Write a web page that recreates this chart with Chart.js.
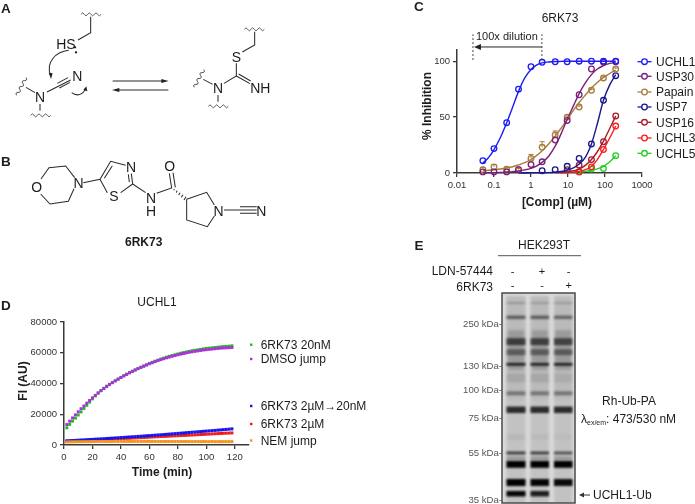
<!DOCTYPE html>
<html lang="en">
<head>
<meta charset="UTF-8" />
<title>6RK73 figure</title>
<script src="https://cdn.jsdelivr.net/npm/chart.js"></script>
<style>
  html, body { margin: 0; background: #fff; }
  #fig { position: relative; width: 695px; height: 504px; overflow: hidden; filter: blur(0.4px); }
  #fig canvas, #art { position: absolute; }
  #art { left: 0; top: 0; }
  #art text { font-family: "Liberation Sans", Arial, sans-serif; fill: #1c1c1c; }
  .bond { fill: none; stroke: #2a2a2a; stroke-width: 3.1; }
  .wave { fill: none; stroke: #333; stroke-width: 2.4; }
</style>
</head>
<body>
<div id="fig">
  <svg id="art" width="695" height="504" xmlns="http://www.w3.org/2000/svg">
    <defs>
      <filter id="soft" x="-20%" y="-50%" width="140%" height="200%"><feGaussianBlur stdDeviation="1" /></filter>
      <filter id="softer" x="-20%" y="-20%" width="140%" height="140%"><feGaussianBlur stdDeviation="1.8" /></filter>
      <clipPath id="gelClip"><rect x="502" y="293" width="73" height="210" /></clipPath>
      <path id="wavy" d="M0,0 q5,-9 10,0 t10,0 t10,0 t10,0 t10,0 t10,0" />
    </defs>

    <!-- panel letters -->
    <g font-weight="bold" font-size="13.5">
      <text x="1" y="13">A</text>
      <text x="1" y="166">B</text>
      <text x="414" y="11">C</text>
      <text x="1" y="310">D</text>
      <text x="414.5" y="249.5">E</text>
    </g>

    <!-- A + B drawn in 3x coordinates -->
    <g transform="scale(0.33333)">
      <use href="#wavy" class="wave" x="243" y="43" />
      <path class="bond" d="M272,50 L272,98 L234,120" />
      <circle cx="225" cy="142" r="3.5" fill="#111" />
      <circle cx="228" cy="157" r="3.5" fill="#111" />
      <path class="bond" stroke-width="2.5" d="M206,151 C170,155 135,185 152,228" />
      <path d="M153,237 L146,218 L158,220 Z" fill="#222" />
      <path class="bond" d="M141,276 L212,240 M172,250 L204,233 M178,264 L210,247" />
      <use href="#wavy" class="wave" transform="translate(50,286) rotate(-62)" />
      <path class="bond" d="M78,262 L105,278 M120,312 L120,332" />
      <use href="#wavy" class="wave" x="92" y="346" />
      <path class="bond" stroke-width="2.5" d="M215,278 C230,290 250,285 256,266" />
      <path d="M259,259 L262,274 L250,270 Z" fill="#222" />
      <path class="bond" stroke-width="2.6" d="M338,243 L490,243 M505,270 L350,270" />
      <path d="M506,243 L484,237 L484,249 Z M336,270 L358,264 L358,276 Z" fill="#222" />

      <use href="#wavy" class="wave" x="733" y="88" />
      <path class="bond" d="M764,95 L764,135 L727,156 M709,190 L709,228 L672,250 M638,253 L610,238 M654,285 L654,305 M709,228 L750,251 M716,222 L752,243" />
      <use href="#wavy" class="wave" transform="translate(583,262) rotate(-62)" />
      <use href="#wavy" class="wave" x="625" y="319" />

      <path class="bond" d="M123,537 L147,503 L197,498 L224,533 M222,566 L205,604 L150,612 L122,582 M250,548 L300,538 L332,484 L377,496 M313,535 L337,497 M394,521 L398,552 L362,578 M385,523 L388,546 M322,578 L300,538 M398,552 L437,578 M470,580 L515,564 L508,520 M526,562 L519,518 M560,598 L620,577 L643,615 M643,648 L622,680 L560,660 L560,598 M672,630 L720,630 M720,620 L770,620 M720,630 L770,630 M720,640 L770,640" />
      <path class="bond" stroke-width="2.4" d="M522,567 L522,571 M531,572 L529,578 M540,578 L536,585 M549,584 L544,592 M558,590 L552,600" />
      <g font-size="42" text-anchor="middle">
        <text x="198" y="146">HS</text>
        <text x="120" y="305">N</text>
        <text x="232" y="243">N</text>
        <text x="709" y="185">S</text>
        <text x="654" y="280">N</text>
        <text x="781" y="279">NH</text>
        <text x="110" y="576">O</text>
        <text x="236" y="563">N</text>
        <text x="393" y="515">N</text>
        <text x="342" y="604">S</text>
        <text x="453" y="609">N</text>
        <text x="453" y="647">H</text>
        <text x="509" y="513">O</text>
        <text x="656" y="647">N</text>
        <text x="784" y="647">N</text>
      </g>
      <text x="431" y="739" font-size="36" font-weight="bold" text-anchor="middle">6RK73</text>
    </g>

    <!-- C text -->
    <text x="560" y="22" font-size="12" text-anchor="middle">6RK73</text>
    <text x="476" y="40" font-size="11">100x dilution</text>
    <text x="557" y="206" font-size="12" font-weight="bold" text-anchor="middle">[Comp] (µM)</text>
    <text transform="translate(431,106) rotate(-90)" font-size="12" font-weight="bold" text-anchor="middle">% Inhibition</text>

    <!-- D text -->
    <text x="157" y="306" font-size="12" text-anchor="middle">UCHL1</text>
    <text x="162" y="476" font-size="12" font-weight="bold" text-anchor="middle">Time (min)</text>
    <text transform="translate(27,381) rotate(-90)" font-size="12" font-weight="bold" text-anchor="middle">FI (AU)</text>

    <!-- E -->
    <text x="544" y="249" font-size="12" text-anchor="middle">HEK293T</text>
    <line x1="498" y1="255.7" x2="581" y2="255.7" stroke="#555" stroke-width="1" />
    <text x="493" y="275" font-size="12" text-anchor="end">LDN-57444</text>
    <text x="493" y="291" font-size="12" text-anchor="end">6RK73</text>
    <g id="gel"></g>
    <text x="629" y="405" font-size="12" text-anchor="middle">Rh-Ub-PA</text>
    <text x="581" y="423" font-size="12">λ<tspan font-size="7" dy="2">ex/em</tspan><tspan dy="-2">: 473/530 nM</tspan></text>
    <text x="593" y="499" font-size="12">UCHL1-Ub</text>
    <path d="M590,495 L582,495" stroke="#333" stroke-width="1" />
    <path d="M579,495 L584,492.5 L584,497.5 Z" fill="#333" />
  </svg>
  <canvas id="chartC" width="295" height="170" style="left:400px;top:30px"></canvas>
  <canvas id="chartD" width="300" height="170" style="left:0;top:310px"></canvas>
</div>

<script>
// --- panel C
const doses = [0.05, 0.1, 0.22, 0.46, 1, 2, 4.5, 9.5, 20, 43, 91, 195];
const uchl1 = [11, 21.8, 45, 75, 95, 99, 99.5, 99.5, 100, 100, 100, 100];
const usp30 = [1, 1, 1, 3, 7.5, 10, 29.5, 47, 70, 93, 99, 99.5];
const papain = [3, 5.5, 3.5, 3, 13, 23, 34, 50, 59, 74, 85, 93];
const usp7 = [null, null, null, null, null, 2, 3, 6, 13, 26, 65, 87];
const usp16 = [null, null, null, null, null, null, null, 3, 7, 12, 28, 51];
const uchl3 = [null, null, null, null, null, null, null, null, 1, 5.5, 21, 42];
const uchl5 = [null, null, null, null, null, null, null, null, 1, 3.5, 4, 15.5];
const papainErr = [2, 2, 2, 1, 3.6, 5, 3.6, 1, 1, 1, 1, 1];

// fitted curves, also
const fitDoses = [0.05, 0.07, 0.1, 0.15, 0.22, 0.32, 0.46, 0.68, 1, 1.4, 2, 3, 4.5, 6.5, 9.5, 14, 20, 30, 43, 62, 91, 135, 195];
const uchl1Fit = [9, 13.5, 21, 32, 45, 59, 73, 85, 92.5, 96.5, 98.5, 99.3, 99.7, 99.8, 100, 100, 100, 100, 100, 100, 100, 100, 100];
const usp30Fit = [0.1, 0.2, 0.3, 0.5, 0.8, 1.2, 1.8, 2.8, 4.2, 6.2, 9.5, 15, 24, 35, 48, 60, 71, 81, 88, 93, 96, 98, 99];
const papainFit = [2, 2.4, 2.9, 3.6, 4.5, 5.6, 7.2, 9.2, 12, 15.5, 20, 26, 33, 40, 48, 56, 63, 70, 76, 81, 85.5, 89, 92];
const usp7Fit = [null, null, null, null, null, null, 0, 0, 0.1, 0.1, 0.2, 0.3, 0.7, 1.3, 2.5, 4.5, 8, 14.5, 26, 44, 65, 79, 88];
const usp16Fit = [null, null, null, null, null, null, null, null, null, null, null, null, 0.2, 0.5, 1, 2, 3.5, 7, 12, 19, 28.5, 40, 51];
const uchl3Fit = [null, null, null, null, null, null, null, null, null, null, null, null, null, 0, 0.3, 0.8, 1.5, 3, 6, 12, 21, 31.5, 42];
const uchl5Fit = [null, null, null, null, null, null, null, null, null, null, null, null, null, null, null, null, 0.8, 1.5, 2.5, 3.7, 6, 10, 15.5];

const cNames = ['UCHL1', 'USP30', 'Papain', 'USP7', 'USP16', 'UCHL3', 'UCHL5'];
const cValues = [uchl1, usp30, papain, usp7, usp16, uchl3, uchl5];
const cFits = [uchl1Fit, usp30Fit, papainFit, usp7Fit, usp16Fit, uchl3Fit, uchl5Fit];
const cXTicks = [0.01, 0.1, 1, 10, 100, 1000];
const cYTicks = [0, 50, 100];
const dilutionRange = [0.027, 1.97];

// --- panel D
const times = [2, 4, 6, 8, 10, 12, 14, 16, 18, 20, 22, 24, 26, 28, 30, 32, 34, 36, 38, 40, 42, 44, 46, 48, 50, 52, 54, 56, 58, 60, 62, 64, 66, 68, 70, 72, 74, 76, 78, 80, 82, 84, 86, 88, 90, 92, 94, 96, 98, 100, 102, 104, 106, 108, 110, 112, 114, 116, 118];
const rk20nM = [11200, 13400, 15500, 17500, 19500, 21500, 23700, 25800, 27900, 30000, 31900, 33700, 35400, 36900, 38300, 39500, 40700, 41800, 42900, 44000, 45100, 46100, 47100, 48000, 48900, 49800, 50600, 51400, 52200, 53000, 53800, 54500, 55200, 55900, 56500, 57100, 57700, 58200, 58700, 59200, 59700, 60100, 60500, 60900, 61300, 61600, 61900, 62200, 62500, 62800, 63000, 63200, 63400, 63600, 63800, 64000, 64100, 64300, 64500];
const dmsoJump = [13300, 15500, 17600, 19600, 21600, 23600, 25400, 27200, 29000, 30700, 32300, 33900, 35300, 36700, 38000, 39300, 40500, 41700, 42800, 43900, 44900, 45900, 46900, 47800, 48700, 49600, 50400, 51200, 52000, 52800, 53500, 54200, 54900, 55500, 56100, 56700, 57200, 57700, 58200, 58700, 59100, 59500, 59900, 60300, 60600, 60900, 61200, 61500, 61800, 62000, 62200, 62400, 62600, 62800, 63000, 63100, 63200, 63300, 63400];
const rk2uMJump = [2700, 2800, 2900, 3000, 3150, 3250, 3350, 3450, 3550, 3650, 3800, 3900, 4000, 4100, 4250, 4350, 4450, 4600, 4700, 4850, 4950, 5100, 5200, 5350, 5450, 5600, 5700, 5850, 6000, 6100, 6250, 6400, 6550, 6650, 6800, 6950, 7100, 7250, 7400, 7550, 7700, 7850, 8000, 8150, 8300, 8450, 8600, 8750, 8900, 9050, 9200, 9350, 9500, 9650, 9800, 10000, 10150, 10300, 10500];
const rk2uM = [2500, 2550, 2650, 2700, 2800, 2900, 2950, 3050, 3150, 3250, 3300, 3400, 3500, 3600, 3700, 3750, 3850, 3950, 4050, 4150, 4250, 4350, 4400, 4500, 4600, 4700, 4800, 4900, 5000, 5100, 5200, 5300, 5400, 5500, 5550, 5650, 5750, 5850, 5950, 6050, 6150, 6250, 6300, 6400, 6500, 6600, 6700, 6800, 6900, 7000, 7100, 7200, 7300, 7400, 7500, 7600, 7700, 7750, 7850];
const nemJump = [2000, 2050, 2100, 2100, 2150, 2150, 2200, 2200, 2200, 2250, 2250, 2250, 2300, 2300, 2300, 2300, 2300, 2350, 2300, 2350, 2300, 2350, 2300, 2300, 2350, 2300, 2300, 2300, 2350, 2300, 2300, 2300, 2250, 2300, 2300, 2250, 2300, 2250, 2250, 2300, 2250, 2250, 2250, 2250, 2200, 2250, 2250, 2200, 2250, 2200, 2200, 2250, 2200, 2200, 2200, 2200, 2200, 2200, 2200];

const dNames = ['6RK73 20nM', 'DMSO jump', '6RK73 2µM→20nM', '6RK73 2µM', 'NEM jump'];
const dValues = [rk20nM, dmsoJump, rk2uMJump, rk2uM, nemJump];
const dXTicks = [0, 20, 40, 60, 80, 100, 120];
const dYTicks = [0, 20000, 40000, 60000, 80000];

// gel: [y, height, darkness in lanes 1,2,3]
const gelBands = [
  [303, 2, .2, .18, .18], [317.3, 3.5, .5, .5, .45], [341.7, 7, .62, .6, .58], [352.2, 6, .42, .42, .42],
  [364.3, 2.6, .85, .85, .85], [378, 9, .1, .1, .08], [393.3, 4, .38, .38, .38], [409.8, 6.5, .78, .78, .78],
  [437, 6, .05, .04, .03], [453, 3, .68, .68, .58], [458, 2, .3, .3, .3], [464.3, 7, 1, 1, 1],
  [482.5, 7, 1, .98, .95], [493.7, 5.5, .98, .85, 0]
];
const gelKda = ['250 kDa-', '130 kDa-', '100 kDa-', '75 kDa-', '55 kDa-', '35 kDa-'];
const gelMarks = [['-', '+', '-'], ['-', '-', '+']];

// --- styles
const cColours = ['#1c1cf5', '#7a1f78', '#a97c3e', '#17178f', '#a51c2c', '#fa1c1c', '#25cc25'];
const dColours = ['#22b922', '#a832d8', '#1414f0', '#f01818', '#f7941e'];
const tickFont = { family: '"Liberation Sans", Arial, sans-serif', size: 9.5 };
const axisColour = '#3a3a3a';

Chart.defaults.animation = false;
Chart.defaults.events = [];
Chart.defaults.plugins.legend.display = false;
Chart.defaults.plugins.tooltip.enabled = false;

function pairs(xs, ys) {
  return xs.map((x, i) => ({ x: x, y: ys[i] })).filter(p => p.y !== null);
}

function axis(min, max, tickValues, size, extra) {
  return Object.assign({
    min: min,
    max: max,
    afterBuildTicks: s => { s.ticks = tickValues.map(v => ({ value: v })); },
    grid: { drawOnChartArea: false, color: axisColour, lineWidth: 1.3, tickLength: 4 },
    border: { color: axisColour, width: 1.5 },
    ticks: { font: tickFont, color: '#333', padding: 3, maxRotation: 0, autoSkip: false, callback: v => String(v) }
  }, extra, {
    afterFit: s => { if (s.isHorizontal()) s.height = size; else s.width = size; }
  });
}

// error bars and the "100x dilution" guide on panel C
const cExtras = {
  id: 'cExtras',
  afterDatasetsDraw(chart) {
    const { ctx, scales: { x, y } } = chart;
    ctx.save();
    ctx.strokeStyle = cColours[2];
    ctx.lineWidth = 1;
    doses.forEach((d, i) => {
      const px = x.getPixelForValue(d);
      const top = y.getPixelForValue(papain[i] + papainErr[i]);
      ctx.beginPath();
      ctx.moveTo(px, y.getPixelForValue(papain[i]));
      ctx.lineTo(px, top);
      ctx.moveTo(px - 2.5, top);
      ctx.lineTo(px + 2.5, top);
      ctx.stroke();
    });

    ctx.strokeStyle = '#444';
    ctx.setLineDash([2, 2]);
    dilutionRange.forEach(d => {
      const px = x.getPixelForValue(d);
      ctx.beginPath();
      ctx.moveTo(px, y.getPixelForValue(101));
      ctx.lineTo(px, y.getPixelForValue(124));
      ctx.stroke();
    });
    ctx.setLineDash([]);
    const ay = y.getPixelForValue(112.7);
    const x0 = x.getPixelForValue(dilutionRange[0]) + 1;
    const x1 = x.getPixelForValue(dilutionRange[1]);
    ctx.strokeStyle = '#222';
    ctx.beginPath();
    ctx.moveTo(x1, ay);
    ctx.lineTo(x0 + 5, ay);
    ctx.stroke();
    ctx.fillStyle = '#222';
    ctx.beginPath();
    ctx.moveTo(x0, ay);
    ctx.lineTo(x0 + 7, ay - 3);
    ctx.lineTo(x0 + 7, ay + 3);
    ctx.fill();
    ctx.restore();
  }
};

const cDatasets = [];
cNames.forEach((name, i) => {
  cDatasets.push({
    label: name,
    data: pairs(doses, cValues[i]),
    showLine: false,
    clip: false,
    pointRadius: 2.8,
    pointBorderWidth: 1.3,
    pointBorderColor: cColours[i],
    pointBackgroundColor: 'transparent'
  });
  cDatasets.push({
    label: name + ' fit',
    data: pairs(fitDoses, cFits[i]),
    showLine: true,
    clip: false,
    pointRadius: 0,
    borderColor: cColours[i],
    borderWidth: 1.4,
    cubicInterpolationMode: 'monotone'
  });
});

new Chart(document.getElementById('chartC'), {
  type: 'scatter',
  data: { datasets: cDatasets },
  options: {
    responsive: false,
    layout: { padding: { top: 20, right: 53, left: 0, bottom: 0 } },
    scales: {
      x: axis(0.01, 1000, cXTicks, 27, { type: 'logarithmic' }),
      y: axis(0, 110, cYTicks, 57, { type: 'linear' })
    }
  },
  plugins: [cExtras]
});

new Chart(document.getElementById('chartD'), {
  type: 'scatter',
  data: {
    datasets: dNames.map((name, i) => ({
      label: name,
      data: pairs(times, dValues[i]),
      clip: false,
      pointStyle: 'rect',
      pointRadius: 2.1,
      pointBorderWidth: 0,
      pointBackgroundColor: dColours[i],
      order: [4, 3, 1, 2, 0][i]
    }))
  },
  options: {
    responsive: false,
    layout: { padding: { top: 12, right: 51, left: 0, bottom: 0 } },
    scales: {
      x: axis(0, 130, dXTicks, 35, { type: 'linear' }),
      y: axis(0, 80000, dYTicks, 64, { type: 'linear' })
    }
  }
});

// --- the svg parts that come from the lists above
const art = document.getElementById('art');
function el(name, attrs, text, parent) {
  const n = document.createElementNS('http://www.w3.org/2000/svg', name);
  Object.keys(attrs).forEach(k => n.setAttribute(k, attrs[k]));
  if (text) n.textContent = text;
  (parent || art).appendChild(n);
  return n;
}

const cLegendY = [61.7, 76.3, 92, 107, 122.3, 138, 153.3];
cNames.forEach((name, i) => {
  el('line', { x1: 637.5, x2: 651.5, y1: cLegendY[i], y2: cLegendY[i], stroke: cColours[i], 'stroke-width': 1.3 });
  el('circle', { cx: 644.5, cy: cLegendY[i], r: 2.8, fill: '#fff', stroke: cColours[i], 'stroke-width': 1.3 });
  el('text', { x: 656, y: cLegendY[i] + 4.2, 'font-size': 12 }, name);
});

const dLegendY = [344.7, 359, 406, 424, 440.5];
dNames.forEach((name, i) => {
  el('rect', { x: 250, y: dLegendY[i] - 1.2, width: 2.4, height: 2.4, fill: dColours[i] });
  el('text', { x: 260.7, y: dLegendY[i] + 4.2, 'font-size': 12 }, name);
});

// gel picture
const gel = document.getElementById('gel');
const gelClip = el('g', { 'clip-path': 'url(#gelClip)' }, null, gel);
el('rect', { x: 502, y: 293, width: 73, height: 210, fill: '#dadada' }, null, gelClip);
const laneX = [506.5, 530.5, 554];
const laneW = [19, 18.5, 18.5];
const laneBlur = el('g', { filter: 'url(#softer)' }, null, gelClip);
laneX.forEach((x, l) => {
  el('rect', { x: x, y: 296, width: laneW[l], height: 110, fill: '#bababa' }, null, laneBlur);
  el('rect', { x: x, y: 400, width: laneW[l], height: 104, fill: '#c2c2c2' }, null, laneBlur);
  el('rect', { x: x + 1, y: 330, width: laneW[l] - 2, height: 40, fill: '#9a9a9a' }, null, laneBlur);
});
const bandBlur = el('g', { filter: 'url(#soft)' }, null, gelClip);
gelBands.forEach(b => {
  laneX.forEach((x, l) => {
    if (b[2 + l] > 0) {
      el('rect', { x: x, y: b[0] - b[1] / 2, width: laneW[l], height: b[1], fill: '#000', opacity: b[2 + l] }, null, bandBlur);
    }
  });
});
el('rect', { x: 502, y: 293, width: 73, height: 210, fill: 'none', stroke: '#4a4a4a', 'stroke-width': 1.5 }, null, gel);

const kdaY = [326.5, 368.5, 392.5, 421, 456, 503];
gelKda.forEach((t, i) => {
  el('text', { x: 502, y: kdaY[i], 'font-size': 9.6, 'text-anchor': 'end', style: 'fill:#555' }, t);
});
const markX = [512.7, 542, 568.7];
const markY = [274.5, 289];
gelMarks.forEach((row, r) => {
  row.forEach((m, c) => {
    el('text', { x: markX[c], y: markY[r], 'font-size': 11, 'text-anchor': 'middle' }, m);
  });
});
</script>
</body>
</html>
